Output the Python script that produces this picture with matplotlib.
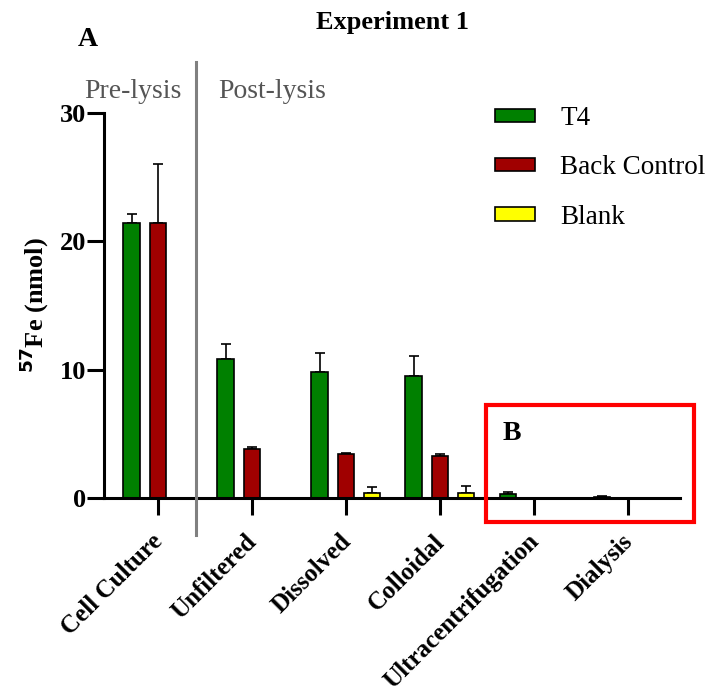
import numpy as np
import matplotlib.pyplot as plt
import matplotlib.transforms as mtransforms
from matplotlib.patches import Rectangle, Patch
from matplotlib.lines import Line2D

plt.rcParams['font.family'] = ['Liberation Serif', 'DejaVu Serif']

categories = ['Cell Culture', 'Unfiltered', 'Dissolved', 'Colloidal',
              'Ultracentrifugation', 'Dialysis']
t4 = [21.4, 10.8, 9.8, 9.5, 0.3, 0.1]
t4_err = [0.7, 1.2, 1.5, 1.6, 0.2, 0.05]
back = [21.4, 3.8, 3.4, 3.3, 0.0, 0.0]
back_err = [4.6, 0.2, 0.1, 0.1, 0.0, 0.0]
blank = [0.0, 0.0, 0.37, 0.37, 0.0, 0.0]
blank_err = [0.0, 0.0, 0.5, 0.55, 0.0, 0.0]
yticks = [0, 10, 20, 30]

series = [('T4', t4, t4_err, '#008000'),
          ('Back Control', back, back_err, '#a00000'),
          ('Blank', blank, blank_err, '#ffff00')]

fig = plt.figure(figsize=(7.08, 6.98), dpi=100)
ax = fig.add_axes([104/708, 200/698, 576/708, 385/698])

x = np.arange(len(categories))
w = 0.18
step = 0.277
for i, (name, vals, errs, col) in enumerate(series):
    pos = x + (i - 1) * step
    ax.bar(pos, vals, width=w, color=col, edgecolor='black', linewidth=1.2, zorder=2)
    ax.errorbar(pos, vals, yerr=[np.zeros(len(errs)), errs], fmt='none',
                ecolor='black', elinewidth=1.2, capsize=3.5, capthick=1.2, zorder=1)

ax.set_xlim(-0.574, 5.553)
ax.set_ylim(0, 30)
ax.set_yticks(yticks)
ax.set_xticks(x)
ax.tick_params(axis='both', width=2.2, length=12)
ax.tick_params(axis='y', pad=1)
ax.tick_params(axis='x', pad=11)
ax.set_xticklabels(categories, rotation=45, ha='right', rotation_mode='anchor',
                   fontsize=18, fontweight='bold')
# nudge the slanted category labels a little to the left
shift = mtransforms.ScaledTranslation(-7/100, 0, fig.dpi_scale_trans)
for lab in ax.get_xticklabels():
    lab.set_transform(lab.get_transform() + shift)
for lab in ax.get_yticklabels():
    lab.set_fontsize(19)
    lab.set_fontweight('bold')
for s in ['top', 'right']:
    ax.spines[s].set_visible(False)
for s in ['left', 'bottom']:
    ax.spines[s].set_linewidth(2.2)

ax.set_ylabel(r'$^{\mathbf{57}}$Fe (nmol)', fontsize=19, fontweight='bold', labelpad=6)

# divider between pre- and post-lysis samples
fig.add_artist(Line2D([196/708, 196/708], [1 - 62/698, 1 - 535/698],
                      color='#808080', linewidth=2.2))
fig.text(133/708, 1 - 92/698, 'Pre-lysis', ha='center', va='center',
         fontsize=20, color='#555555')
fig.text(272/708, 1 - 92/698, 'Post-lysis', ha='center', va='center',
         fontsize=20, color='#555555')

fig.text(392/708, 1 - 22/698, 'Experiment 1', ha='center', va='center',
         fontsize=19, fontweight='bold')
fig.text(88/708, 1 - 40/698, 'A', ha='center', va='center',
         fontsize=20, fontweight='bold')

# highlight box around the low-value methods
fig.add_artist(Rectangle((486/708, 1 - 522/698), 208/708, 117/698,
                         fill=False, edgecolor='#ff0000', linewidth=3))
fig.text(512/708, 1 - 434/698, 'B', ha='center', va='center',
         fontsize=20, fontweight='bold')

handles = [Patch(facecolor=c, edgecolor='black', linewidth=1.2, label=n)
           for n, _, _, c in series]
fig.legend(handles=handles, loc='upper left', bbox_to_anchor=(495/708, 1 - 106/698),
           frameon=False, fontsize=19.5, handlelength=1.48, handleheight=0.37,
           handletextpad=0.93, labelspacing=0.9, borderpad=0, borderaxespad=0)

fig.savefig('out.png', dpi=100)
